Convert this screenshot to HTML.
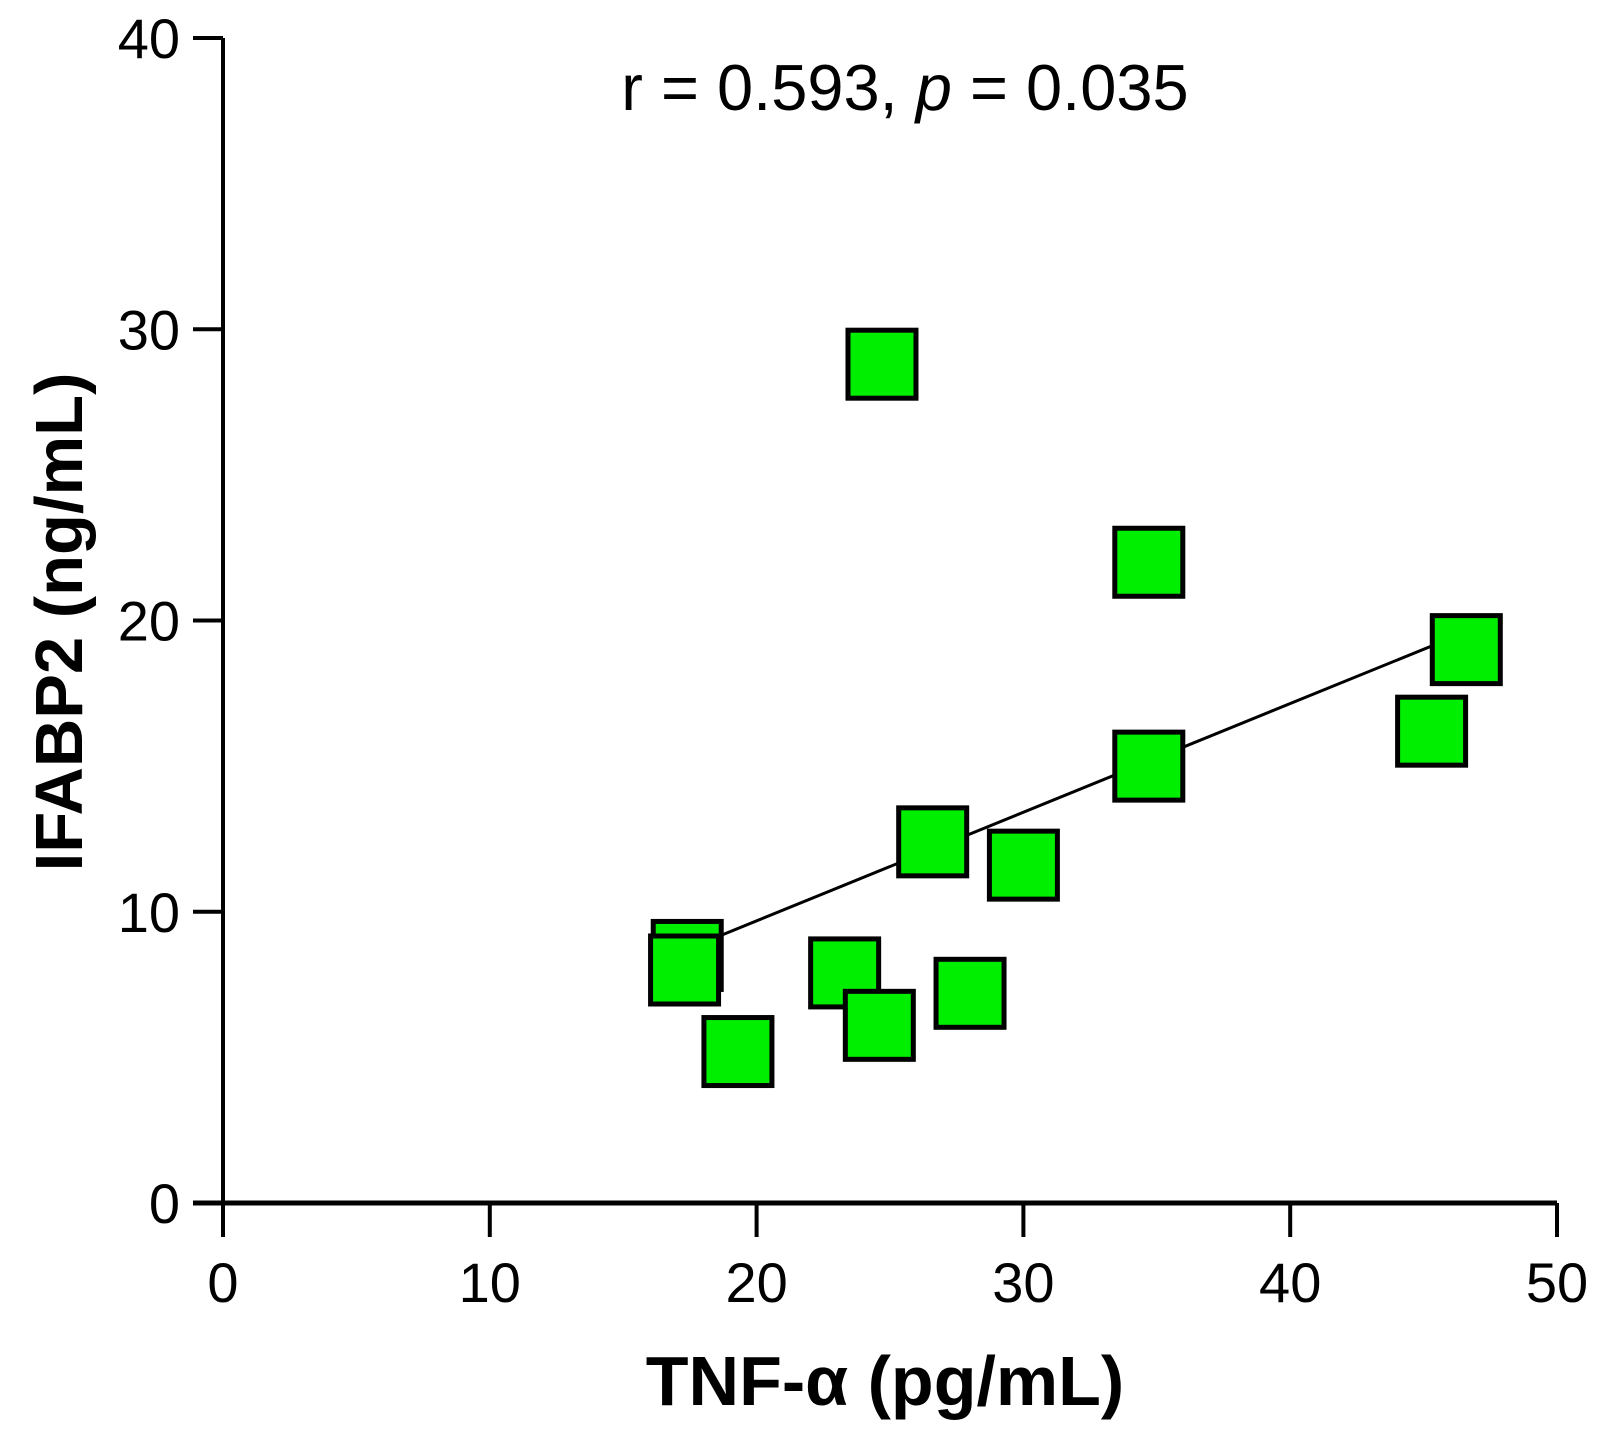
<!DOCTYPE html>
<html><head><meta charset="utf-8"><style>
html,body{margin:0;padding:0;background:#fff;}
svg{display:block;font-family:"Liberation Sans",sans-serif;}
</style></head><body>
<svg id="chart" width="1602" height="1434" viewBox="0 0 1602 1434">
<g id="axes"></g>
<g id="fit"></g>
<g id="pts"></g>
<text x="905" y="110" font-size="65" text-anchor="middle">r = 0.593, <tspan font-style="italic">p</tspan> = 0.035</text>
<text x="885" y="1405" font-size="70" font-weight="bold" text-anchor="middle">TNF-α (pg/mL)</text>
<text transform="translate(82,622) rotate(-90)" font-size="67" font-weight="bold" text-anchor="middle">IFABP2 (ng/mL)</text>
</svg>
<script>
const xValues = [17.4, 24.7, 34.7, 46.6, 45.3, 34.7, 26.6, 30.0, 17.3, 23.3, 28.0, 24.6, 19.3];
const yValues = [8.5, 28.8, 22.0, 19.0, 16.2, 15.0, 12.4, 11.6, 8.0, 7.9, 7.2, 6.1, 5.2];
const xTicks = [0, 10, 20, 30, 40, 50];
const yTicks = [0, 10, 20, 30, 40];
const fitRange = [18.1, 46.7];

const NS = "http://www.w3.org/2000/svg";
const X0 = 223, X1 = 1557, Y0 = 1203, Y1 = 38;
const sx = v => X0 + (v - 0) / 50 * (X1 - X0);
const sy = v => Y0 - (v - 0) / 40 * (Y0 - Y1);
function mk(tag, attrs, parent) {
  const e = document.createElementNS(NS, tag);
  for (const k in attrs) e.setAttribute(k, attrs[k]);
  parent.appendChild(e);
  return e;
}
const axes = document.getElementById('axes');
let e = mk('line', {x1: X0, y1: Y0, x2: X0, y2: Y1, stroke: '#000', 'stroke-width': 4}, axes);


e = mk('line', {x1: X0 - 30, y1: Y0, x2: X1, y2: Y0, stroke: '#000', 'stroke-width': 5}, axes);


yTicks.forEach(t => {
  const y = sy(t);
  const tk = mk('line', {x1: X0 - 30, y1: y, x2: X0, y2: y, stroke: '#000', 'stroke-width': 4}, axes);
  
  
  const tx = mk('text', {x: 180, y: y + 20, 'font-size': 56, 'text-anchor': 'end'}, axes);
  tx.textContent = t;
  
  
});
xTicks.forEach(t => {
  const x = sx(t);
  const tk = mk('line', {x1: x, y1: Y0, x2: x, y2: Y0 + 34, stroke: '#000', 'stroke-width': 4}, axes);
  
  
  const tx = mk('text', {x: x, y: 1302, 'font-size': 56, 'text-anchor': 'middle'}, axes);
  tx.textContent = t;
  
  
});
const n = xValues.length;
const mx = xValues.reduce((a, b) => a + b, 0) / n;
const my = yValues.reduce((a, b) => a + b, 0) / n;
let sxy = 0, sxx = 0;
for (let i = 0; i < n; i++) { sxy += (xValues[i] - mx) * (yValues[i] - my); sxx += (xValues[i] - mx) ** 2; }
const slope = sxy / sxx, icpt = my - slope * mx;
const fl = mk('line', {x1: sx(fitRange[0]), y1: sy(icpt + slope * fitRange[0]), x2: sx(fitRange[1]), y2: sy(icpt + slope * fitRange[1]), stroke: '#000', 'stroke-width': 3}, document.getElementById('fit'));


const pts = document.getElementById('pts');
const S = 68;
xValues.forEach((xv, i) => {
  const r = mk('rect', {x: sx(xv) - S / 2, y: sy(yValues[i]) - S / 2, width: S, height: S, fill: '#00ee00', stroke: '#000', 'stroke-width': 5}, pts);
  
  
});
</script>
</body></html>
